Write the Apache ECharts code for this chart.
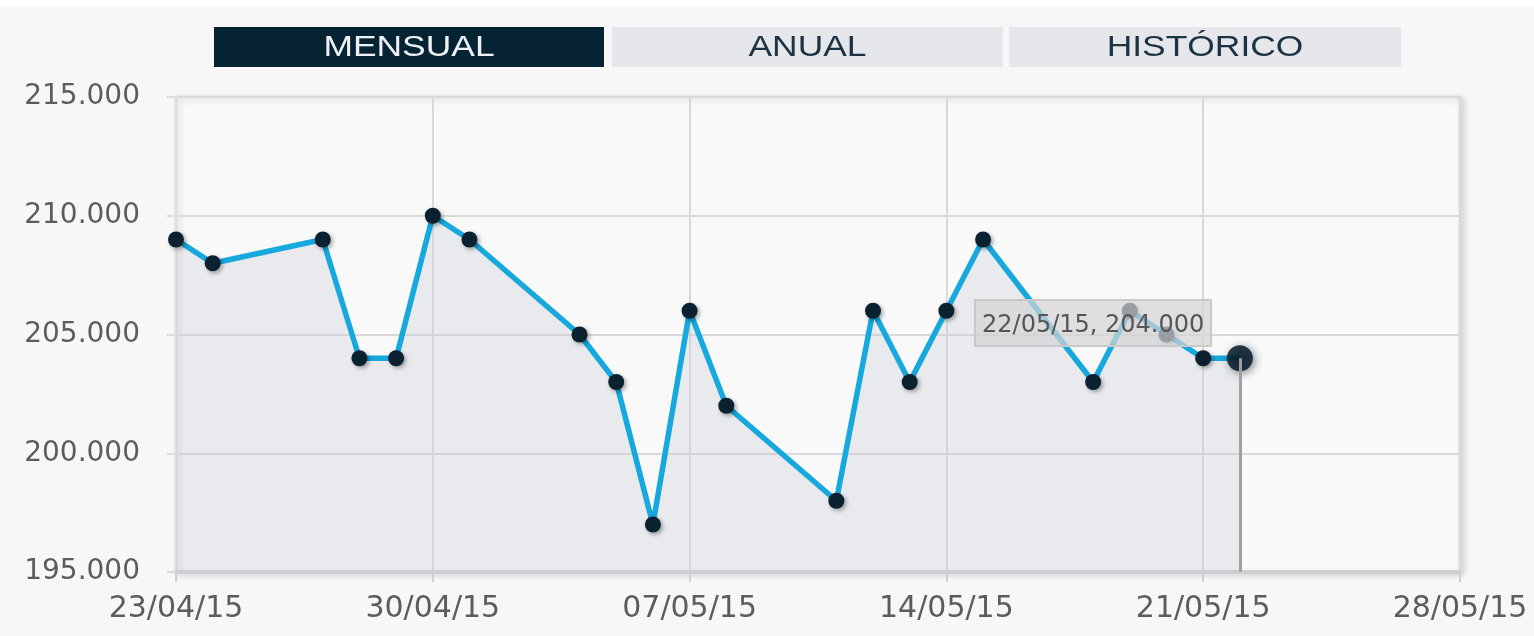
<!DOCTYPE html>
<html>
<head>
<meta charset="utf-8">
<script src="https://cdn.jsdelivr.net/npm/echarts@6/dist/echarts.min.js"></script>
<style>
  html, body { margin: 0; padding: 0; background: #f7f7f7; }
  #main { width: 1534px; height: 636px; }
</style>
</head>
<body>
<div id="main"></div>
<script>
const DAY = 86400000

const dates = ['23/04/15', '24/04/15', '27/04/15', '28/04/15', '29/04/15', '30/04/15', '01/05/15',
  '04/05/15', '05/05/15', '06/05/15', '07/05/15', '08/05/15', '11/05/15', '12/05/15', '13/05/15',
  '14/05/15', '15/05/15', '18/05/15', '19/05/15', '20/05/15', '21/05/15', '22/05/15']
const values = [209000, 208000, 209000, 204000, 204000, 210000, 209000,
  205000, 203000, 197000, 206000, 202000, 198000, 206000, 203000,
  206000, 209000, 203000, 206000, 205000, 204000, 204000]
const buttons = ['MENSUAL', 'ANUAL', 'HISTÓRICO']
const axisStart = '23/04/15'
const axisEnd = '28/05/15'

function toTime(s) {
  const [d, m, y] = s.split('/').map(Number)
  return Date.UTC(2000 + y, m - 1, d)
}

function fmtDate(t) {
  const d = new Date(t)
  const p = (n) => String(n).padStart(2, '0')
  return `${p(d.getUTCDate())}/${p(d.getUTCMonth() + 1)}/${p(d.getUTCFullYear() % 100)}`
}

function fmtNum(v) {
  return String(v).replace(/\B(?=(\d{3})+(?!\d))/g, '.')
}

const FONT = '"DejaVu Sans", Verdana, sans-serif'
const last = dates.length - 1

const seriesData = dates.map((d, i) => {
  const item = { value: [toTime(d), values[i]] }
  if (i === last) {
    item.symbolSize = 26
    item.itemStyle = { color: 'rgba(8,28,44,0.85)', shadowBlur: 8, shadowColor: 'rgba(8,28,44,0.6)' }
  }
  return item
})

// the three period buttons above the plot
const btnX = [214, 612, 1009]
const btnW = [390, 391, 392]
const graphic = [{ type: 'rect', left: 0, top: 0, shape: { width: 1534, height: 6 }, style: { fill: '#ffffff' } }]
buttons.forEach((b, i) => {
  const active = i === 0
  graphic.push({
    type: 'rect',
    x: btnX[i], y: 27,
    shape: { width: btnW[i], height: 40 },
    style: { fill: active ? '#062333' : '#e6e7ea' },
  })
  graphic.push({
    type: 'text',
    x: btnX[i] + btnW[i] / 2, y: 48,
    scaleX: 1.18,
    style: {
      text: b, x: 0, y: 0,
      textAlign: 'center', textVerticalAlign: 'middle',
      fontFamily: '"Liberation Sans", Arial, sans-serif', fontSize: 30,
      fill: active ? '#eef1f3' : '#1c3344',
    },
  })
})

function main() {
  const chart = echarts.init(document.getElementById('main'))
  chart.setOption({
    animation: false,
    backgroundColor: '#f7f7f7',
    graphic,
    grid: {
      left: 176, right: 74, top: 97, bottom: 64,
      show: true,
      backgroundColor: '#f9f9f9',
      borderColor: '#e2e2e2',
      borderWidth: 3,
      shadowColor: 'rgba(0,0,0,0.12)',
      shadowBlur: 6,
      shadowOffsetX: 3,
      shadowOffsetY: 2,
    },
    tooltip: {
      trigger: 'item',
      alwaysShowContent: true,
      transitionDuration: 0,
      position: [974, 299],
      backgroundColor: 'rgba(212,212,212,0.7)',
      borderColor: '#c9c9c9',
      borderWidth: 2,
      borderRadius: 0,
      padding: [5, 6, 3, 6],
      extraCssText: 'box-shadow:none;',
      textStyle: { fontFamily: FONT, fontSize: 24, color: '#555' },
      formatter: (p) => `${fmtDate(p.value[0])}, ${fmtNum(p.value[1])}`,
    },
    xAxis: {
      type: 'value',
      min: toTime(axisStart),
      max: toTime(axisEnd),
      interval: 7 * DAY,
      axisLine: { show: true, lineStyle: { color: '#cfcfcf', width: 4 } },
      axisTick: { show: true, length: 10, lineStyle: { color: '#cfcfcf', width: 2 } },
      splitLine: { show: true, lineStyle: { color: '#d9d9d9', width: 2 } },
      axisLabel: {
        margin: 22,
        fontFamily: FONT, fontSize: 30, color: '#5c5c5c',
        formatter: fmtDate,
      },
    },
    yAxis: {
      type: 'value',
      min: 195000, max: 215000, interval: 5000,
      axisLine: { show: true, lineStyle: { color: '#e0e0e0', width: 3 } },
      axisTick: { show: true, length: 9, lineStyle: { color: '#dddddd', width: 2 } },
      splitLine: { show: true, lineStyle: { color: '#d9d9d9', width: 2 } },
      axisLabel: {
        margin: 36,
        fontFamily: FONT, fontSize: 28, color: '#5c5c5c',
        formatter: fmtNum,
      },
    },
    series: [{
      type: 'line',
      data: seriesData,
      symbol: 'circle',
      symbolSize: 16,
      showAllSymbol: true,
      lineStyle: { color: '#17a8de', width: 5.5 },
      itemStyle: { color: '#0b2130', shadowBlur: 4, shadowOffsetX: 2, shadowOffsetY: 2, shadowColor: 'rgba(0,0,0,0.35)' },
      areaStyle: { color: 'rgba(196,203,210,0.45)' },
      emphasis: { disabled: true },
      markLine: {
        silent: true,
        symbol: 'none',
        label: { show: false },
        lineStyle: { color: '#a0a0a0', width: 3, type: 'solid' },
        data: [[
          { coord: [toTime(dates[last]), values[last]] },
          { coord: [toTime(dates[last]), 195000] },
        ]],
      },
      z: 3,
    }],
  })
  chart.dispatchAction({ type: 'showTip', seriesIndex: 0, dataIndex: last })
}

window.onload = main
</script>
</body>
</html>
